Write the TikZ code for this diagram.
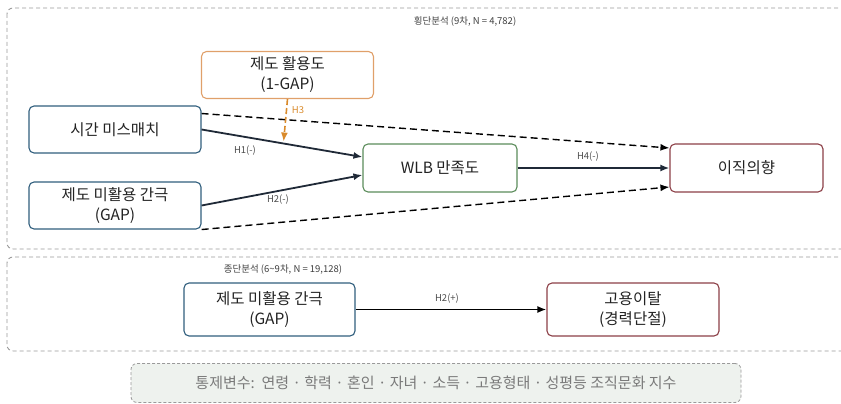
\documentclass[tikz,border=0pt]{standalone}
\usepackage{fontspec}
\setmainfont{Noto Sans CJK KR}
\usetikzlibrary{arrows,arrows.meta,positioning,calc}

\definecolor{inkdark}{HTML}{222222}
\definecolor{linenavy}{HTML}{1F2937}
\definecolor{boxblue}{HTML}{2F5D7C}
\definecolor{boxorange}{HTML}{E0A06A}
\definecolor{arroworange}{HTML}{D98A2B}
\definecolor{boxgreen}{HTML}{5B8C5A}
\definecolor{boxred}{HTML}{8C3F47}
\definecolor{framegray}{HTML}{9A9A9A}
\definecolor{ctrlfill}{HTML}{EEF2EE}
\definecolor{ctrltext}{HTML}{7A7A7A}

\begin{document}
\begin{tikzpicture}[x=1pt,y=1pt,>={Latex[length=9pt,width=7pt]},
    varbox/.style={draw,rounded corners=5pt,line width=1.1pt,minimum width=172pt,
      minimum height=47pt,align=center,text=inkdark,
      font=\fontsize{15.5}{20}\selectfont},
    frame/.style={draw=framegray,dash pattern=on 4pt off 3pt,line width=0.9pt,rounded corners=6pt},
    path/.style={->,draw=linenavy,line width=1.8pt},
    ctrlpath/.style={->,draw=black,dash pattern=on 7pt off 4pt,line width=1.4pt},
    hlabel/.style={font=\fontsize{9.5}{10}\selectfont,text=black!70},
    grouptitle/.style={font=\fontsize{9.5}{11}\selectfont,text=black!75}]
  \useasboundingbox (0,0) rectangle (841,-404);

  % analysis groups
  \draw [frame] (7,-8) rectangle (850,-249);
  \draw [frame] (7,-257) rectangle (850,-351);
  \node [grouptitle] (crosstitle) at (465,-21) {횡단분석 (9차, N = 4,782)};
  \node [grouptitle] (longtitle) at (283,-270) {종단분석 (6{\char"007E}9차, N = 19,128)};

  % cross-sectional model
  \node [varbox,draw=boxorange] (util) at (287.5,-75) {제도 활용도\\(1-GAP)};
  \node [varbox,draw=boxblue] (mis) at (115,-129.5) {시간 미스매치};
  \node [varbox,draw=boxblue] (gap) at (115,-205.5) {제도 미활용 간극\\(GAP)};
  \node [varbox,draw=boxgreen,minimum width=154pt,minimum height=48pt] (wlb) at (440,-168) {WLB 만족도};
  \node [varbox,draw=boxred,minimum width=153pt,minimum height=48pt] (quit) at (746.5,-168) {이직의향};

  \draw [path] (mis.east) -- coordinate[pos=0.51] (h3end) ($(wlb.west)+(0,11)$);
  \draw [path] (gap.east) -- ($(wlb.west)+(0,-7)$);
  \draw [path] (wlb.east) -- (quit.west);
  \draw [ctrlpath] ($(mis.east)+(0,16)$) -- ($(quit.west)+(0,20)$);
  \draw [ctrlpath] (gap.south east) -- ($(quit.west)+(0,-19)$);
  \draw [->,draw=arroworange,dash pattern=on 6pt off 3pt,line width=1.6pt] (util.south) -- ($(h3end)+(0,2)$);

  \node [hlabel] (h1) at (245,-151) {H1(-)};
  \node [hlabel] (h2) at (278,-200) {H2(-)};
  \node [hlabel,text=arroworange] (h3) at (298,-110) {H3};
  \node [hlabel] (h4) at (588,-157) {H4(-)};

  % longitudinal model
  \node [varbox,draw=boxblue,minimum width=171pt,minimum height=53pt] (gapl) at (269.5,-309.5) {제도 미활용 간극\\(GAP)};
  \node [varbox,draw=boxred,minimum width=172pt,minimum height=53pt] (exit) at (633,-309.5) {고용이탈\\(경력단절)};
  \draw [path,draw=black] (gapl) -- (exit);
  \node [hlabel] (h2l) at (447,-299) {H2(+)};

  % controls
  \node [draw=framegray,dash pattern=on 3pt off 2pt,line width=0.8pt,fill=ctrlfill,rounded corners=6pt,
    minimum width=610pt,minimum height=39pt,text=ctrltext,
    font=\fontsize{15}{17}\selectfont] (ctrl) at (436,-383)
    {통제변수:\ \ 연령 · 학력 · 혼인 · 자녀 · 소득 · 고용형태 · 성평등 조직문화 지수};
\end{tikzpicture}
\end{document}
